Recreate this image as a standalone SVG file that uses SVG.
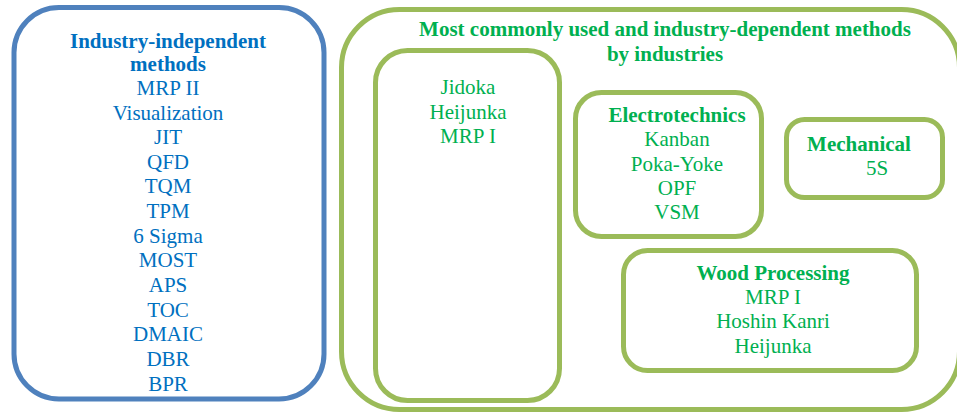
<svg xmlns="http://www.w3.org/2000/svg" width="957" height="412" viewBox="0 0 957 412">
<style>
  .box { fill: none; stroke-width: 5; }
  .blue { stroke: #4F81BD; }
  .green { stroke: #9BBB59; }
  text { font-family: "Liberation Serif", "Times New Roman", serif; font-size: 21px; text-anchor: middle; }
  .bt { fill: #0070C0; }
  .gt { fill: #00B050; }
  .b { font-weight: bold; }
</style>
<rect width="957" height="412" fill="#FFFFFF"/>
<g id="industry-independent">
  <rect class="box blue" x="14" y="7.5" width="310" height="391.5" rx="45" ry="45"/>
  <text class="bt b" x="168" y="48">Industry-independent</text>
  <text class="bt b" x="168" y="71">methods</text>
  <text class="bt" x="168" y="95">MRP II</text>
  <text class="bt" x="168" y="120">Visualization</text>
  <text class="bt" x="168" y="144">JIT</text>
  <text class="bt" x="168" y="169">QFD</text>
  <text class="bt" x="168" y="193">TQM</text>
  <text class="bt" x="168" y="218">TPM</text>
  <text class="bt" x="168" y="243">6 Sigma</text>
  <text class="bt" x="168" y="267">MOST</text>
  <text class="bt" x="168" y="292">APS</text>
  <text class="bt" x="168" y="317">TOC</text>
  <text class="bt" x="168" y="341">DMAIC</text>
  <text class="bt" x="168" y="366">DBR</text>
  <text class="bt" x="168" y="391">BPR</text>
</g>
<g id="industry-dependent">
  <rect class="box green" x="341.5" y="9.5" width="618" height="400" rx="58" ry="58"/>
  <text class="gt b" x="665" y="36">Most commonly used and industry-dependent methods</text>
  <text class="gt b" x="665" y="61">by industries</text>
</g>
<g id="common">
  <rect class="box green" x="375.5" y="50.5" width="184" height="350" rx="32" ry="32"/>
  <text class="gt" x="468" y="94">Jidoka</text>
  <text class="gt" x="468" y="119">Heijunka</text>
  <text class="gt" x="468" y="143">MRP I</text>
</g>
<g id="electrotechnics">
  <rect class="box green" x="575.5" y="92.5" width="186" height="144" rx="26" ry="26"/>
  <text class="gt b" x="677" y="122">Electrotechnics</text>
  <text class="gt" x="677" y="146">Kanban</text>
  <text class="gt" x="677" y="171">Poka-Yoke</text>
  <text class="gt" x="677" y="195">OPF</text>
  <text class="gt" x="677" y="219">VSM</text>
</g>
<g id="mechanical">
  <rect class="box green" x="786.5" y="119.5" width="156" height="78" rx="18" ry="18"/>
  <text class="gt b" x="859" y="151">Mechanical</text>
  <text class="gt" x="877" y="175">5S</text>
</g>
<g id="wood-processing">
  <rect class="box green" x="623.5" y="250.5" width="293" height="120" rx="24" ry="24"/>
  <text class="gt b" x="773" y="280">Wood Processing</text>
  <text class="gt" x="773" y="304">MRP I</text>
  <text class="gt" x="773" y="328">Hoshin Kanri</text>
  <text class="gt" x="773" y="353">Heijunka</text>
</g>
<g id="connectors"></g>
</svg>
